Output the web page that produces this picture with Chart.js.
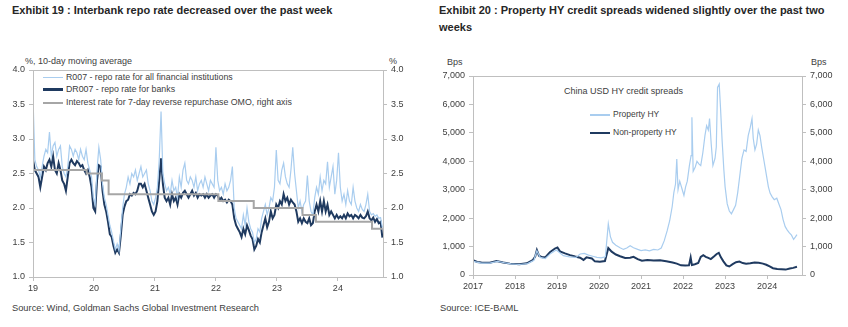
<!DOCTYPE html>
<html>
<head>
<meta charset="utf-8">
<script src="https://cdn.jsdelivr.net/npm/chart.js@4.4.1/dist/chart.umd.min.js"></script>
<style>
  body { margin: 0; background: #fff; width: 848px; height: 327px; position: relative; overflow: hidden; font-family: "Liberation Sans", Arial, sans-serif; }
  .title { position: absolute; font-family: "Liberation Sans Narrow", "Liberation Sans", sans-serif; font-weight: bold; font-size: 11px; color: #262626; line-height: 17px; white-space: nowrap; }
  .source { position: absolute; font-family: "Liberation Sans Narrow", "Liberation Sans", sans-serif; font-size: 9.3px; color: #404040; white-space: nowrap; }
  .lbl { position: absolute; font-size: 9px; color: #404040; white-space: nowrap; }
  .leg { position: absolute; font-size: 8.8px; color: #404040; white-space: nowrap; line-height: 10px; }
  .sw { display: inline-block; width: 20px; vertical-align: middle; margin-right: 3px; }
  canvas { position: absolute; }
</style>
</head>
<body>
<div class="title" style="left:12px; top:2px;">Exhibit 19 : Interbank repo rate decreased over the past week</div>
<div class="title" style="left:439px; top:2px;">Exhibit 20 : Property HY credit spreads widened slightly over the past two<br>weeks</div>

<div class="lbl" style="left:25px; top:56px;">%, 10-day moving average</div>
<div class="lbl" style="left:389px; top:56px;">%</div>
<div class="lbl" style="left:447px; top:57px;">Bps</div>
<div class="lbl" style="left:811px; top:57px;">Bps</div>

<div class="leg" style="left:43px; top:72px;"><span class="sw" style="height:1.5px;background:#a9cdef;"></span>R007 - repo rate for all financial institutions</div>
<div class="leg" style="left:43px; top:84px;"><span class="sw" style="height:2.5px;background:#1f3a60;"></span>DR007 - repo rate for banks</div>
<div class="leg" style="left:43px; top:97px;"><span class="sw" style="height:2px;background:#a6a6a6;"></span>Interest rate for 7-day reverse repurchase OMO, right axis</div>

<div class="lbl" style="left:564px; top:86px;">China USD HY credit spreads</div>
<div class="leg" style="left:590px; top:109px; font-size:8.5px;"><span class="sw" style="height:1.5px;background:#a9cdef;"></span>Property  HY</div>
<div class="leg" style="left:590px; top:127px; font-size:8.5px;"><span class="sw" style="height:2.5px;background:#1f3a60;"></span>Non-property HY</div>

<div class="source" style="left:12px; top:303px;">Source: Wind, Goldman Sachs Global Investment Research</div>
<div class="source" style="left:440px; top:303px;">Source: ICE-BAML</div>

<canvas id="repoChart" width="424" height="245" style="left:0; top:60px;"></canvas>
<canvas id="hyChart" width="424" height="245" style="left:424px; top:60px;"></canvas>

<script>
// Exhibit 19 - repo rates (x = fractional year)
const repoDates = [
  2019.00, 2019.03, 2019.06, 2019.09, 2019.12, 2019.15, 2019.18, 2019.21, 2019.24, 2019.27,
  2019.30, 2019.33, 2019.36, 2019.39, 2019.42, 2019.45, 2019.48, 2019.51, 2019.54, 2019.57,
  2019.60, 2019.63, 2019.66, 2019.69, 2019.72, 2019.75, 2019.78, 2019.81, 2019.84, 2019.87,
  2019.90, 2019.93, 2019.96, 2019.99, 2020.02, 2020.05, 2020.08, 2020.11, 2020.14, 2020.17,
  2020.20, 2020.23, 2020.26, 2020.29, 2020.32, 2020.35, 2020.38, 2020.41, 2020.44, 2020.47,
  2020.50, 2020.53, 2020.56, 2020.59, 2020.62, 2020.65, 2020.68, 2020.71, 2020.74, 2020.77,
  2020.80, 2020.83, 2020.86, 2020.89, 2020.92, 2020.95, 2020.98, 2021.01, 2021.04, 2021.07,
  2021.10, 2021.13, 2021.16, 2021.19, 2021.22, 2021.25, 2021.28, 2021.31, 2021.34, 2021.37,
  2021.40, 2021.43, 2021.46, 2021.49, 2021.52, 2021.55, 2021.58, 2021.61, 2021.64, 2021.67,
  2021.70, 2021.73, 2021.76, 2021.79, 2021.82, 2021.85, 2021.88, 2021.91, 2021.94, 2021.97,
  2022.00, 2022.03, 2022.06, 2022.09, 2022.12, 2022.15, 2022.18, 2022.21, 2022.24, 2022.27,
  2022.30, 2022.33, 2022.36, 2022.39, 2022.42, 2022.45, 2022.48, 2022.51, 2022.54, 2022.57,
  2022.60, 2022.63, 2022.66, 2022.69, 2022.72, 2022.75, 2022.78, 2022.81, 2022.84, 2022.87,
  2022.90, 2022.93, 2022.96, 2022.99, 2023.02, 2023.05, 2023.08, 2023.11, 2023.14, 2023.17,
  2023.20, 2023.23, 2023.26, 2023.29, 2023.32, 2023.35, 2023.38, 2023.41, 2023.44, 2023.47,
  2023.50, 2023.53, 2023.56, 2023.59, 2023.62, 2023.65, 2023.68, 2023.71, 2023.74, 2023.77,
  2023.80, 2023.83, 2023.86, 2023.89, 2023.92, 2023.95, 2023.98, 2024.01, 2024.04, 2024.07,
  2024.10, 2024.13, 2024.16, 2024.19, 2024.22, 2024.25, 2024.28, 2024.31, 2024.34, 2024.37,
  2024.40, 2024.43, 2024.46, 2024.49, 2024.52, 2024.55, 2024.58, 2024.61, 2024.64, 2024.67,
  2024.70, 2024.73
];
const r007Rates = [
  3.60, 2.70, 2.60, 2.55, 2.45, 2.60, 2.75, 2.85, 2.80, 3.10,
  2.75, 2.90, 2.95, 2.75, 2.85, 2.90, 2.60, 2.50, 2.45, 2.60,
  2.90, 2.85, 2.75, 2.85, 2.80, 2.70, 2.85, 2.75, 2.70, 2.85,
  2.65, 2.55, 2.45, 2.15, 2.05, 2.55, 2.88, 2.70, 2.35, 2.15,
  2.05, 1.90, 1.75, 1.65, 1.52, 1.40, 1.48, 1.38, 1.70, 2.00,
  2.20, 2.30, 2.45, 2.35, 2.50, 2.45, 2.55, 2.40, 2.50, 2.60,
  2.45, 2.50, 2.55, 2.35, 2.25, 2.10, 2.05, 2.15, 2.30, 2.70,
  3.40, 2.50, 2.35, 2.25, 2.30, 2.20, 2.40, 2.25, 2.30, 2.15,
  2.45, 2.30, 2.55, 2.65, 2.40, 2.35, 2.45, 2.40, 2.30, 2.45,
  2.25, 2.35, 2.40, 2.30, 2.45, 2.35, 2.25, 2.40, 2.35, 2.30,
  2.88, 2.40, 2.25, 2.30, 2.20, 2.35, 2.25, 2.30, 2.40, 2.60,
  2.00, 1.85, 1.80, 1.75, 1.70, 1.90, 1.75, 2.00, 1.80, 1.70,
  1.65, 1.50, 1.55, 1.70, 1.65, 1.85, 1.95, 2.05, 1.90, 2.00,
  2.15, 2.10, 2.30, 2.84, 2.40, 2.35, 2.55, 2.65, 2.45, 2.35,
  2.30, 2.55, 2.88, 2.50, 2.25, 2.00, 2.10, 1.95, 2.05, 2.10,
  2.47, 2.10, 1.95, 1.90, 2.15, 2.30, 2.20, 2.45, 2.25, 2.40,
  2.35, 2.67, 2.30, 2.45, 2.60, 2.20, 2.40, 2.80, 2.30, 2.10,
  2.20, 2.05, 2.25, 2.10, 2.05, 2.30, 2.10, 2.00, 1.95, 2.05,
  1.98, 1.95, 2.05, 2.20, 1.95, 1.90, 1.92, 1.88, 1.90, 1.85,
  1.86, 1.72
];
const dr007Rates = [
  2.70, 2.55, 2.50, 2.45, 2.30, 2.45, 2.60, 2.55, 2.65, 2.70,
  2.60, 2.75, 2.55, 2.50, 2.65, 2.55, 2.40, 2.35, 2.25, 2.45,
  2.65, 2.70, 2.65, 2.62, 2.68, 2.65, 2.60, 2.62, 2.55, 2.50,
  2.55, 2.45, 2.30, 2.00, 1.95, 2.40, 2.62, 2.60, 2.25, 2.05,
  1.95, 1.80, 1.62, 1.58, 1.45, 1.35, 1.40, 1.35, 1.60, 1.90,
  2.02, 2.10, 2.12, 2.20, 2.18, 2.22, 2.20, 2.25, 2.35, 2.35,
  2.30, 2.35, 2.25, 2.15, 2.05, 1.95, 1.90, 1.95, 2.10, 2.40,
  2.72, 2.35, 2.15, 2.10, 2.15, 2.05, 2.20, 2.10, 2.15, 2.05,
  2.20, 2.15, 2.22, 2.25, 2.20, 2.15, 2.20, 2.25, 2.18, 2.22,
  2.15, 2.20, 2.18, 2.20, 2.15, 2.20, 2.15, 2.18, 2.20, 2.15,
  2.20, 2.18, 2.12, 2.15, 2.10, 2.12, 2.08, 2.12, 2.10, 2.05,
  1.85, 1.75, 1.70, 1.65, 1.58, 1.70, 1.62, 1.75, 1.68, 1.60,
  1.55, 1.40, 1.45, 1.55, 1.50, 1.65, 1.75, 1.85, 1.72, 1.80,
  1.95, 1.85, 1.90, 2.05, 2.00, 2.10, 2.05, 2.20, 2.10, 2.15,
  2.05, 2.12, 2.08, 2.05, 1.95, 1.80, 1.85, 1.78, 1.85, 1.80,
  1.78, 1.85, 1.75, 1.78, 1.95, 2.05, 1.95, 2.10, 1.95, 2.10,
  1.95, 2.05, 1.90, 1.95, 1.90, 1.85, 1.90, 1.85, 1.88, 1.85,
  1.90, 1.85, 1.92, 1.88, 1.90, 1.85, 1.90, 1.88, 1.85, 1.90,
  1.86, 1.85, 1.88, 1.95, 1.85, 1.82, 1.86, 1.80, 1.84, 1.78,
  1.80, 1.57
];
// 7-day reverse repo OMO rate, change dates and new levels
const omoDates = [2019.00, 2019.88, 2020.13, 2020.24, 2022.04, 2022.62, 2023.42, 2023.64, 2024.56, 2024.73];
const omoRates = [2.55, 2.50, 2.40, 2.20, 2.10, 2.00, 1.90, 1.80, 1.70, 1.70];
const repoYearLabels = ["19", "20", "21", "22", "23", "24"];

// Exhibit 20 - China USD HY credit spreads, bps
const propDates = [
  2017.00, 2017.20, 2017.40, 2017.58, 2017.75, 2017.90, 2018.10, 2018.30, 2018.45, 2018.52,
  2018.60, 2018.72, 2018.85, 2018.98, 2019.05, 2019.15, 2019.30, 2019.45, 2019.55, 2019.65,
  2019.75, 2019.85, 2019.95, 2020.05, 2020.15, 2020.22, 2020.27, 2020.32, 2020.40, 2020.50,
  2020.58, 2020.66, 2020.74, 2020.82, 2020.92, 2021.00, 2021.10, 2021.20, 2021.30, 2021.40,
  2021.48, 2021.55, 2021.62, 2021.68, 2021.74, 2021.78, 2021.82, 2021.85, 2021.88, 2021.92,
  2021.97, 2022.02, 2022.06, 2022.10, 2022.15, 2022.19, 2022.21, 2022.24, 2022.29, 2022.33,
  2022.38, 2022.42, 2022.47, 2022.52, 2022.56, 2022.60, 2022.63, 2022.67, 2022.71, 2022.76,
  2022.79, 2022.82, 2022.86, 2022.89, 2022.93, 2022.97, 2023.00, 2023.05, 2023.10, 2023.15,
  2023.20, 2023.25, 2023.30, 2023.35, 2023.40, 2023.45, 2023.50, 2023.55, 2023.60, 2023.64,
  2023.67, 2023.71, 2023.75, 2023.79, 2023.83, 2023.87, 2023.91, 2023.95, 2023.99, 2024.03,
  2024.07, 2024.12, 2024.17, 2024.23, 2024.28, 2024.33, 2024.38, 2024.43, 2024.48, 2024.53,
  2024.58, 2024.63, 2024.67, 2024.71
];
const propBps = [
  480, 420, 420, 480, 430, 390, 370, 400, 520, 850,
  620, 580, 760, 880, 800, 680, 640, 620, 740, 760,
  700, 660, 620, 600, 640, 1800, 1350, 1150, 1050, 960,
  900, 950, 1030, 960, 900, 860, 880, 850, 900, 880,
  950, 1200, 1550, 1900, 2400, 2900, 3200, 4080, 3000, 3300,
  3050, 2800, 3100, 3300, 3850, 4200, 5550, 3650, 3800, 4000,
  3900, 3850, 4300, 4900, 5250, 5100, 5500, 4600, 3850, 4100,
  4500, 6600, 6720, 5900, 4700, 3700, 3100, 2500, 2250, 2150,
  2300, 2450, 2900, 3500, 4100, 4400, 4350, 4900, 5200, 5500,
  4800, 4400, 4600, 5100, 4900, 4500, 4150, 3800, 3450, 3100,
  2880, 2750, 2650, 2700, 2500, 2300, 1950, 1700, 1580, 1480,
  1400, 1250, 1330, 1420
];
const nonPropDates = [
  2017.00, 2017.10, 2017.20, 2017.40, 2017.56, 2017.72, 2017.88, 2018.10, 2018.28, 2018.42,
  2018.48, 2018.52, 2018.57, 2018.65, 2018.72, 2018.83, 2018.95, 2019.01, 2019.07, 2019.19,
  2019.31, 2019.43, 2019.55, 2019.63, 2019.70, 2019.83, 2019.90, 2020.02, 2020.14, 2020.22,
  2020.30, 2020.40, 2020.50, 2020.62, 2020.74, 2020.82, 2020.92, 2021.02, 2021.15, 2021.30,
  2021.45, 2021.60, 2021.75, 2021.85, 2021.95, 2022.05, 2022.14, 2022.18, 2022.21, 2022.28,
  2022.36, 2022.42, 2022.48, 2022.54, 2022.60, 2022.66, 2022.74, 2022.80, 2022.85, 2022.90,
  2022.96, 2023.03, 2023.10, 2023.18, 2023.26, 2023.34, 2023.42, 2023.50, 2023.60, 2023.70,
  2023.80, 2023.90, 2023.98, 2024.06, 2024.14, 2024.24, 2024.34, 2024.44, 2024.54, 2024.62,
  2024.71
];
const nonPropBps = [
  520, 460, 440, 430, 490, 440, 400, 380, 410, 520,
  650, 880, 680, 620, 620, 800, 930, 970, 830, 760,
  700, 650, 610, 530, 620, 580, 480, 470, 490, 950,
  820, 720, 660, 600, 610, 640, 560, 500, 530, 510,
  520, 480, 440, 400, 340, 330, 340, 620, 350, 380,
  420, 640, 700, 640, 600, 560, 660, 740, 780, 620,
  480, 340, 300, 380, 450, 470, 420, 400, 410, 440,
  430, 400, 360, 300, 240, 210, 200, 190, 230, 250,
  290
];
const hyYearLabels = ["2017", "2018", "2019", "2020", "2021", "2022", "2023", "2024"];

const LIGHT = "#a9cdef";
const DARK = "#1f3a60";
const GREY = "#a6a6a6";
const AXIS = "#bfbfbf";
const TEXT = "#404040";
const FONT = { family: "'Liberation Sans', Arial, sans-serif", size: 9 };

function toPoints(xs, ys) {
  return xs.map((x, i) => ({ x: x, y: ys[i] }));
}

// draws the thin box round the plot area
const frame = {
  id: "frame",
  afterDraw(chart) {
    const a = chart.chartArea;
    const ctx = chart.ctx;
    ctx.save();
    ctx.strokeStyle = AXIS;
    ctx.lineWidth = 1;
    ctx.strokeRect(Math.round(a.left) + 0.5, Math.round(a.top) + 0.5,
      Math.round(a.right - a.left), Math.round(a.bottom - a.top));
    ctx.restore();
  }
};

function yAxis(position, min, max, step, fmt, width) {
  return {
    type: "linear",
    position: position,
    min: min,
    max: max,
    border: { color: AXIS },
    grid: { drawOnChartArea: false, color: AXIS, tickLength: 4 },
    ticks: { stepSize: step, color: TEXT, font: FONT, padding: 4, callback: fmt },
    afterFit: s => { s.width = width; }
  };
}

function xAxis(min, max, labels, height) {
  return {
    type: "linear",
    min: min,
    max: max,
    border: { color: AXIS },
    grid: { drawOnChartArea: false, color: AXIS, tickLength: 4 },
    ticks: {
      stepSize: 1, includeBounds: false, autoSkip: false, maxRotation: 0,
      color: TEXT, font: FONT, padding: 2,
      callback: v => labels[v - min]
    },
    afterFit: s => { s.height = height; }
  };
}

const baseOptions = {
  responsive: false,
  animation: false,
  devicePixelRatio: 1,
  plugins: { legend: { display: false }, tooltip: { enabled: false } },
  elements: { point: { radius: 0 }, line: { tension: 0 } }
};

new Chart(document.getElementById("repoChart"), {
  type: "line",
  data: {
    datasets: [
      { label: "Interest rate for 7-day reverse repurchase OMO, right axis", data: toPoints(omoDates, omoRates),
        yAxisID: "y2", borderColor: GREY, borderWidth: 2, stepped: true },
      { label: "R007 - repo rate for all financial institutions", data: toPoints(repoDates, r007Rates),
        yAxisID: "y", borderColor: LIGHT, borderWidth: 1.2 },
      { label: "DR007 - repo rate for banks", data: toPoints(repoDates, dr007Rates),
        yAxisID: "y", borderColor: DARK, borderWidth: 2 }
    ]
  },
  options: {
    ...baseOptions,
    layout: { padding: { top: 10, left: 0, right: 0, bottom: 0 } },
    scales: {
      x: xAxis(2019, 2024.74, repoYearLabels, 28),
      y: yAxis("left", 1, 4, 0.5, v => v.toFixed(1), 33),
      y2: yAxis("right", 1, 4, 0.5, v => v.toFixed(1), 41)
    }
  },
  plugins: [frame]
});

new Chart(document.getElementById("hyChart"), {
  type: "line",
  data: {
    datasets: [
      { label: "Property HY", data: toPoints(propDates, propBps),
        yAxisID: "y", borderColor: LIGHT, borderWidth: 1.2 },
      { label: "Non-property HY", data: toPoints(nonPropDates, nonPropBps),
        yAxisID: "y", borderColor: DARK, borderWidth: 2 }
    ]
  },
  options: {
    ...baseOptions,
    layout: { padding: { top: 16, left: 0, right: 0, bottom: 0 } },
    scales: {
      x: xAxis(2017, 2024.83, hyYearLabels, 30),
      y: yAxis("left", 0, 7000, 1000, v => v.toLocaleString("en-US"), 49),
      y2: yAxis("right", 0, 7000, 1000, v => v.toLocaleString("en-US"), 46)
    }
  },
  plugins: [frame]
});
</script>
</body>
</html>
